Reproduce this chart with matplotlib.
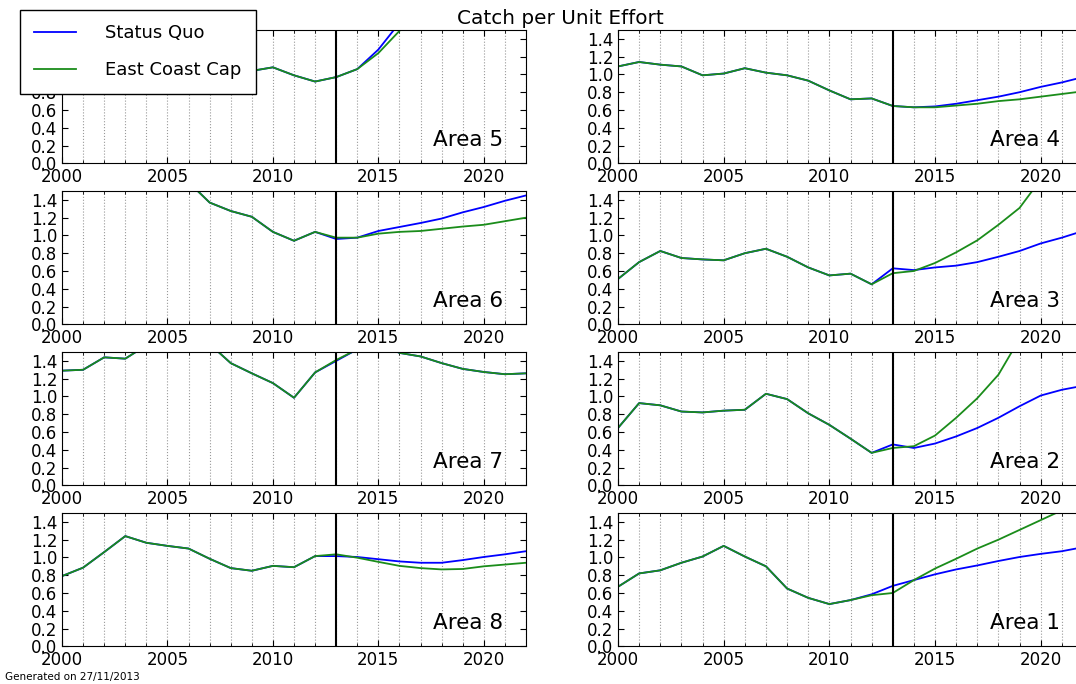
import matplotlib
matplotlib.use("Agg")
import matplotlib.pyplot as plt
from matplotlib.ticker import MultipleLocator

years = list(range(2000, 2023))

# Status Quo / East Coast Cap catch per unit effort, per area
area5_sq = [1.20, 1.25, 1.15, 1.18, 1.10, 1.12, 1.05, 1.08, 1.02, 1.04, 1.08, 0.99, 0.92,
            0.97, 1.06, 1.28, 1.58, 1.85, 2.10, 2.35, 2.55, 2.75, 2.90]
area5_ecc = [1.20, 1.25, 1.15, 1.18, 1.10, 1.12, 1.05, 1.08, 1.02, 1.04, 1.08, 0.99, 0.92,
             0.97, 1.06, 1.24, 1.49, 1.75, 2.00, 2.20, 2.40, 2.55, 2.70]

area4_sq = [1.09, 1.14, 1.11, 1.09, 0.99, 1.01, 1.07, 1.02, 0.99, 0.93, 0.82, 0.72, 0.73,
            0.645, 0.63, 0.64, 0.67, 0.71, 0.75, 0.80, 0.86, 0.91, 0.97]
area4_ecc = [1.09, 1.14, 1.11, 1.09, 0.99, 1.01, 1.07, 1.02, 0.99, 0.93, 0.82, 0.72, 0.73,
             0.645, 0.63, 0.63, 0.65, 0.67, 0.70, 0.72, 0.75, 0.78, 0.81]

area6_sq = [1.75, 1.80, 1.85, 1.78, 1.70, 1.65, 1.60, 1.37, 1.275, 1.21, 1.04, 0.94, 1.04,
            0.96, 0.975, 1.05, 1.095, 1.14, 1.19, 1.26, 1.32, 1.39, 1.45]
area6_ecc = [1.75, 1.80, 1.85, 1.78, 1.70, 1.65, 1.60, 1.37, 1.275, 1.21, 1.04, 0.94, 1.04,
             0.975, 0.975, 1.02, 1.04, 1.05, 1.075, 1.10, 1.12, 1.16, 1.20]

area3_sq = [0.51, 0.70, 0.825, 0.746, 0.73, 0.72, 0.80, 0.85, 0.76, 0.64, 0.55, 0.57, 0.45,
            0.63, 0.61, 0.64, 0.66, 0.70, 0.76, 0.825, 0.91, 0.975, 1.05]
area3_ecc = [0.51, 0.70, 0.825, 0.746, 0.73, 0.72, 0.80, 0.85, 0.76, 0.64, 0.55, 0.57, 0.45,
             0.575, 0.60, 0.69, 0.81, 0.945, 1.12, 1.31, 1.63, 1.85, 2.10]

area7_sq = [1.29, 1.30, 1.44, 1.425, 1.575, 1.65, 1.68, 1.59, 1.375, 1.26, 1.15, 0.985, 1.27,
            1.40, 1.53, 1.60, 1.49, 1.45, 1.375, 1.31, 1.275, 1.25, 1.26]
area7_ecc = [1.29, 1.30, 1.44, 1.425, 1.575, 1.65, 1.68, 1.59, 1.375, 1.26, 1.15, 0.985, 1.27,
             1.41, 1.53, 1.60, 1.49, 1.45, 1.375, 1.31, 1.275, 1.25, 1.26]

area2_sq = [0.645, 0.925, 0.90, 0.83, 0.82, 0.84, 0.85, 1.03, 0.97, 0.81, 0.68, 0.525, 0.365,
            0.46, 0.42, 0.47, 0.55, 0.645, 0.76, 0.89, 1.01, 1.075, 1.12]
area2_ecc = [0.645, 0.925, 0.90, 0.83, 0.82, 0.84, 0.85, 1.03, 0.97, 0.81, 0.68, 0.525, 0.365,
             0.42, 0.44, 0.56, 0.76, 0.98, 1.245, 1.65, 2.00, 2.30, 2.60]

area8_sq = [0.79, 0.885, 1.06, 1.24, 1.165, 1.13, 1.10, 0.985, 0.88, 0.85, 0.905, 0.89, 1.015,
            1.015, 1.005, 0.98, 0.955, 0.94, 0.94, 0.97, 1.005, 1.035, 1.07]
area8_ecc = [0.79, 0.885, 1.06, 1.24, 1.165, 1.13, 1.10, 0.985, 0.88, 0.85, 0.905, 0.89, 1.015,
             1.035, 0.997, 0.95, 0.905, 0.88, 0.865, 0.87, 0.90, 0.92, 0.94]

area1_sq = [0.67, 0.82, 0.855, 0.94, 1.01, 1.13, 1.01, 0.90, 0.65, 0.545, 0.475, 0.52, 0.585,
            0.68, 0.745, 0.81, 0.865, 0.91, 0.96, 1.005, 1.04, 1.07, 1.115]
area1_ecc = [0.67, 0.82, 0.855, 0.94, 1.01, 1.13, 1.01, 0.90, 0.65, 0.545, 0.475, 0.52, 0.575,
             0.60, 0.745, 0.875, 0.985, 1.10, 1.20, 1.31, 1.42, 1.53, 1.64]

left_col = [("Area 5", area5_sq, area5_ecc), ("Area 6", area6_sq, area6_ecc),
            ("Area 7", area7_sq, area7_ecc), ("Area 8", area8_sq, area8_ecc)]
right_col = [("Area 4", area4_sq, area4_ecc), ("Area 3", area3_sq, area3_ecc),
             ("Area 2", area2_sq, area2_ecc), ("Area 1", area1_sq, area1_ecc)]

W, H = 1076, 684
fig = plt.figure(figsize=(W / 100, H / 100), dpi=100)

blue = "#0000ff"
green = "#1a8c1a"


def panel(x0, top, width, name, sq, ecc):
    ax = fig.add_axes([x0 / W, 1 - (top + 133.3) / H, width / W, 133.3 / H])
    l1, = ax.plot(years, sq, color=blue, lw=1.3, label="Status Quo")
    l2, = ax.plot(years, ecc, color=green, lw=1.3, label="East Coast Cap")
    ax.axvline(2013, color="black", lw=1.5)
    ax.set_xlim(2000, 2022)
    ax.set_ylim(0, 1.5)
    ax.xaxis.set_major_locator(MultipleLocator(5))
    ax.xaxis.set_minor_locator(MultipleLocator(1))
    ax.yaxis.set_major_locator(MultipleLocator(0.2))
    ax.tick_params(which="both", direction="in", top=True, right=True,
                   labelsize=12, color="black")
    ax.tick_params(which="major", length=4)
    ax.tick_params(which="minor", length=2)
    ax.grid(True, which="both", axis="x", linestyle=":", color="#999999", lw=0.8)
    ax.text(0.95, 0.10, name, transform=ax.transAxes, ha="right", va="bottom",
            fontsize=15.5)
    return l1, l2


tops = [30, 191, 352, 513]
for top, (name, sq, ecc) in zip(tops, left_col):
    handles = panel(62, top, 464, name, sq, ecc)
for top, (name, sq, ecc) in zip(tops, right_col):
    panel(618, top, 465, name, sq, ecc)

fig.text(560 / W, 1 - 18 / H, "Catch per Unit Effort", ha="center", va="center",
         fontsize=14.4)

leg = fig.legend(handles, ["Status Quo", "East Coast Cap"], loc="upper left",
                 bbox_to_anchor=(20 / W, 1 - 10 / H), fontsize=13, borderpad=0.8,
                 labelspacing=1.05, handlelength=2.3, handletextpad=1.6,
                 borderaxespad=0, fancybox=False, framealpha=1)
leg.get_frame().set_edgecolor("black")
leg.get_frame().set_linewidth(1.0)

fig.text(5 / W, 2 / H, "Generated on 27/11/2013", fontsize=7.5, ha="left", va="bottom")

fig.savefig("out.png", dpi=100)
